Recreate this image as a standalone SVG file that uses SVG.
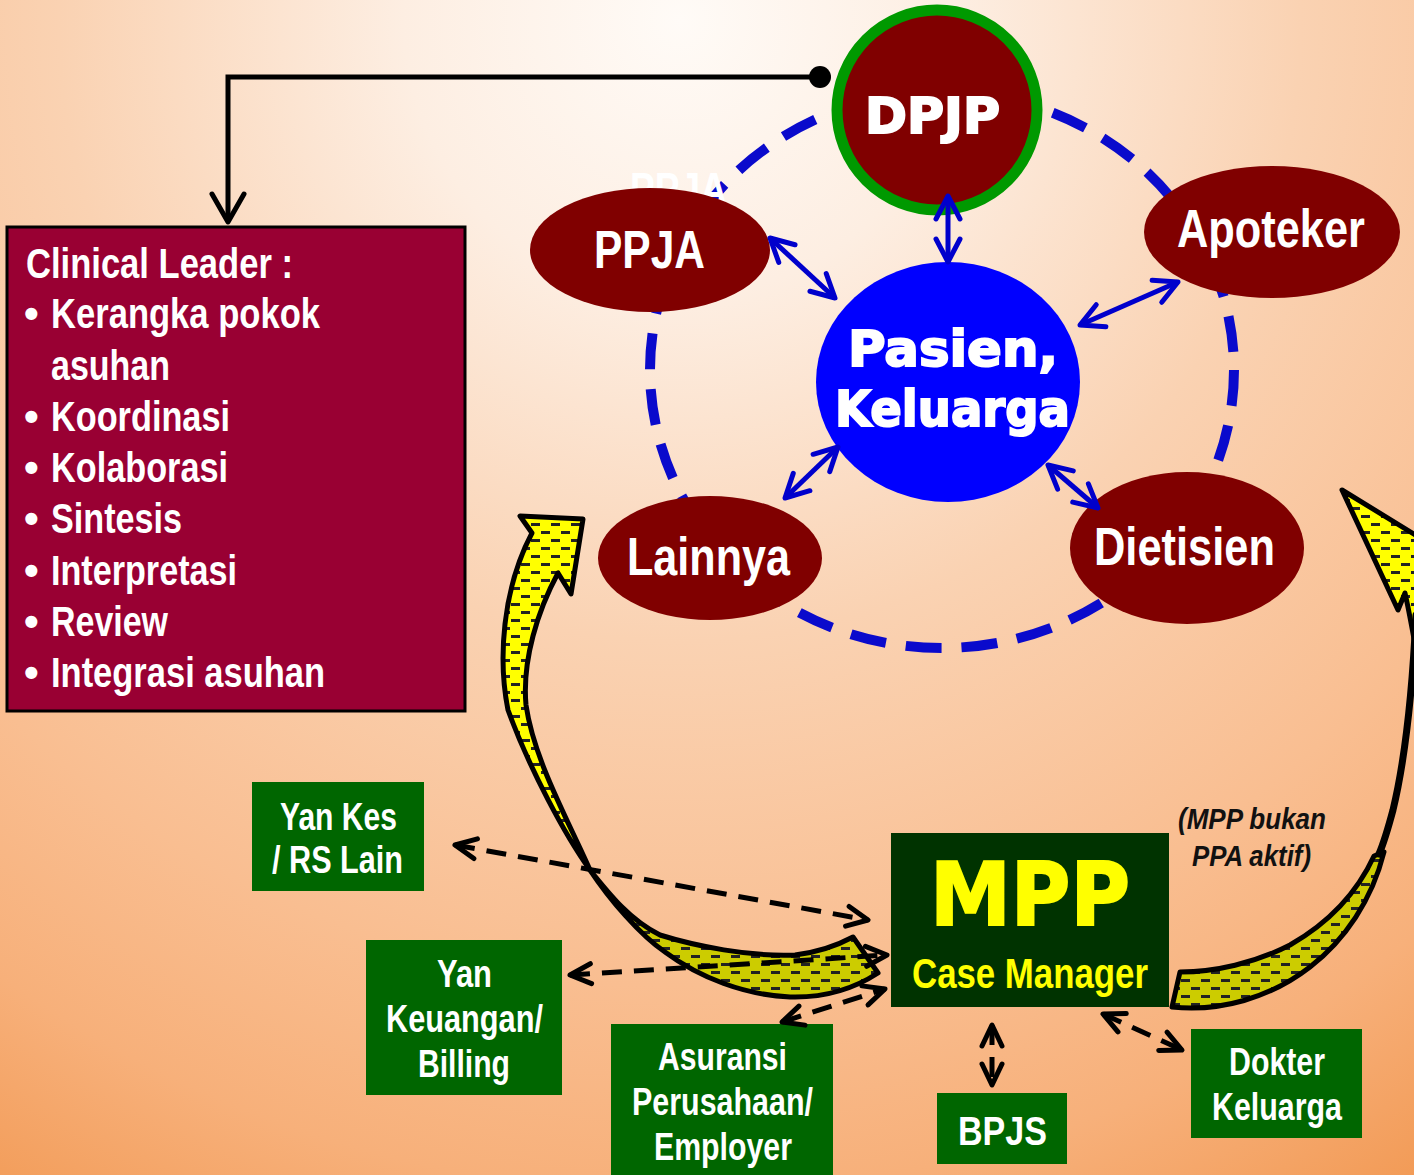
<svg xmlns="http://www.w3.org/2000/svg" xmlns:xlink="http://www.w3.org/1999/xlink" width="1414" height="1175" viewBox="0 0 1414 1175">
<style>
.nar{font-family:"Liberation Sans Narrow","Liberation Sans",Arial,sans-serif;font-weight:bold;}
.blk{font-family:"DejaVu Sans","Liberation Sans",sans-serif;font-weight:bold;}
.w{fill:#fff;}
.node{fill:#800000;}
.gbox{fill:#006600;}
.barrow{stroke:#0000cc;stroke-width:5;fill:none;marker-start:url(#ba);marker-end:url(#ba);}
.darrow{stroke:#000;stroke-width:5;fill:none;stroke-dasharray:20 12;marker-start:url(#ka);marker-end:url(#ka);}
.ystroke{stroke:#000;stroke-width:5;stroke-linejoin:round;}
</style>
<defs>
<radialGradient id="bg" cx="680" cy="20" r="1380" gradientUnits="userSpaceOnUse">
<stop offset="0" stop-color="#fffbf7"/>
<stop offset="0.2" stop-color="#fdeee2"/>
<stop offset="0.45" stop-color="#fad2b2"/>
<stop offset="0.7" stop-color="#f9be91"/>
<stop offset="0.85" stop-color="#f7b07a"/>
<stop offset="1" stop-color="#f29a55"/>
</radialGradient>
<pattern id="dash" width="20" height="16" patternUnits="userSpaceOnUse">
<rect x="1" y="3" width="9" height="3" fill="#222"/>
<rect x="11" y="11" width="9" height="3" fill="#222"/>
</pattern>
<marker id="ba" viewBox="0 0 30 30" refX="27" refY="15" markerWidth="30" markerHeight="30" markerUnits="userSpaceOnUse" orient="auto-start-reverse">
<path d="M4,3 L27,15 L4,27" fill="none" stroke="#0000cc" stroke-width="5" stroke-linecap="round" stroke-linejoin="round"/>
</marker>
<marker id="ka" viewBox="0 0 28 26" refX="25" refY="13" markerWidth="28" markerHeight="26" markerUnits="userSpaceOnUse" orient="auto-start-reverse">
<path d="M4,3 L25,13 L4,23" fill="none" stroke="#000" stroke-width="5" stroke-linecap="round" stroke-linejoin="round"/>
</marker>
<marker id="kb" viewBox="0 0 36 40" refX="32" refY="20" markerWidth="36" markerHeight="40" markerUnits="userSpaceOnUse" orient="auto">
<path d="M4,4 L32,20 L4,36" fill="none" stroke="#000" stroke-width="5" stroke-linecap="round" stroke-linejoin="round"/>
</marker>
<path id="lup" d="M532,533 L520,516 L583,519 L571,594 L558,573 C538,610 522,660 526,705 C534,760 568,820 590,870 C565,835 530,770 508,710 C498,660 502,590 532,533 Z"/>
<path id="llow" d="M590,870 C610,895 630,920 660,935 C695,946 750,957 795,955 C820,952 838,945 853,937 L878,973 C855,988 825,998 790,997 C745,995 700,978 665,952 C640,935 610,900 590,870 Z"/>
<path id="rup" d="M1405,593 L1398,610 L1342,490 L1440,550 L1440,660 L1418,660 C1414,640 1410,615 1405,593 Z"/>
<path id="rlow" d="M1374,856 C1356,895 1325,925 1290,945 C1255,963 1215,972 1180,972 L1172,1007 C1220,1012 1270,998 1310,967 C1345,940 1372,900 1384,852 Z"/>
</defs>

<rect width="1414" height="1175" fill="url(#bg)"/>

<ellipse id="ring" cx="942" cy="370" rx="292" ry="278" fill="none" stroke="#0a0acc" stroke-width="10" stroke-dasharray="36 20"/>

<g id="ghost"><text class="nar w" x="630" y="205" font-size="46" textLength="97" lengthAdjust="spacingAndGlyphs">PPJA</text></g>

<g id="clinical-leader">
<rect x="7" y="227" width="458" height="484" fill="#990033" stroke="#000" stroke-width="3"/>
<g class="nar w" font-size="42">
<text x="26" y="278" textLength="267" lengthAdjust="spacingAndGlyphs">Clinical Leader :</text>
<text x="24" y="328">•</text><text x="51" y="328" textLength="269" lengthAdjust="spacingAndGlyphs">Kerangka pokok</text>
<text x="51" y="380" textLength="119" lengthAdjust="spacingAndGlyphs">asuhan</text>
<text x="24" y="431">•</text><text x="51" y="431" textLength="179" lengthAdjust="spacingAndGlyphs">Koordinasi</text>
<text x="24" y="482">•</text><text x="51" y="482" textLength="177" lengthAdjust="spacingAndGlyphs">Kolaborasi</text>
<text x="24" y="533">•</text><text x="51" y="533" textLength="131" lengthAdjust="spacingAndGlyphs">Sintesis</text>
<text x="24" y="585">•</text><text x="51" y="585" textLength="186" lengthAdjust="spacingAndGlyphs">Interpretasi</text>
<text x="24" y="636">•</text><text x="51" y="636" textLength="117" lengthAdjust="spacingAndGlyphs">Review</text>
<text x="24" y="687">•</text><text x="51" y="687" textLength="274" lengthAdjust="spacingAndGlyphs">Integrasi asuhan</text>
</g>
</g>

<g id="ppja"><ellipse class="node" cx="650" cy="250" rx="120" ry="62"/>
<text class="nar w" x="594" y="268" font-size="53" textLength="111" lengthAdjust="spacingAndGlyphs">PPJA</text></g>
<g id="apoteker"><ellipse class="node" cx="1272" cy="232" rx="128" ry="66"/>
<text class="nar w" x="1177" y="247" font-size="53" textLength="188" lengthAdjust="spacingAndGlyphs">Apoteker</text></g>
<g id="lainnya"><ellipse class="node" cx="710" cy="558" rx="112" ry="62"/>
<text class="nar w" x="627" y="575" font-size="53" textLength="163" lengthAdjust="spacingAndGlyphs">Lainnya</text></g>
<g id="dietisien"><ellipse class="node" cx="1187" cy="548" rx="117" ry="76"/>
<text class="nar w" x="1094" y="565" font-size="53" textLength="181" lengthAdjust="spacingAndGlyphs">Dietisien</text></g>

<g id="dpjp"><circle cx="937" cy="110" r="100" fill="#800000" stroke="#009900" stroke-width="11"/>
<text class="blk w" x="865" y="133" font-size="49" stroke="#fff" stroke-width="2" textLength="135" lengthAdjust="spacingAndGlyphs">DPJP</text></g>

<g id="pasien"><ellipse cx="948" cy="382" rx="132" ry="120" fill="#0000ff"/>
<text class="blk w" x="848" y="366" font-size="50" stroke="#fff" stroke-width="2" textLength="210" lengthAdjust="spacingAndGlyphs">Pasien,</text>
<text class="blk w" x="835" y="426" font-size="50" stroke="#fff" stroke-width="2" textLength="235" lengthAdjust="spacingAndGlyphs">Keluarga</text></g>

<g id="yellow-arrows">
<use xlink:href="#lup" fill="#ffff00"/><use xlink:href="#lup" fill="url(#dash)" class="ystroke"/>
<use xlink:href="#llow" fill="#cccc00"/><use xlink:href="#llow" fill="url(#dash)" class="ystroke"/>
<use xlink:href="#rup" fill="#ffff00"/><use xlink:href="#rup" fill="url(#dash)" class="ystroke"/>
<use xlink:href="#rlow" fill="#cccc00"/><use xlink:href="#rlow" fill="url(#dash)" class="ystroke"/>
<path d="M1416,615 C1412,700 1405,760 1393,810 C1389,825 1385,840 1379,854" fill="none" stroke="#000" stroke-width="7" stroke-linecap="round"/>
</g>

<g id="mpp"><rect x="891" y="833" width="278" height="174" fill="#003300"/>
<text class="blk" x="930" y="925" font-size="88" fill="#ffff00" stroke="#ffff00" stroke-width="2" textLength="200" lengthAdjust="spacingAndGlyphs">MPP</text>
<text class="nar" x="912" y="988" font-size="42" fill="#ffff00" textLength="236" lengthAdjust="spacingAndGlyphs">Case Manager</text></g>

<g id="note">
<text class="nar" font-style="italic" font-size="30" fill="#111" x="1178" y="829" textLength="148" lengthAdjust="spacingAndGlyphs">(MPP bukan</text>
<text class="nar" font-style="italic" font-size="30" fill="#111" x="1192" y="866" textLength="119" lengthAdjust="spacingAndGlyphs">PPA aktif)</text></g>

<g id="yankes"><rect class="gbox" x="252" y="782" width="172" height="109"/>
<g class="nar w" font-size="38"><text x="280" y="830" textLength="117" lengthAdjust="spacingAndGlyphs">Yan Kes</text>
<text x="272" y="873" textLength="131" lengthAdjust="spacingAndGlyphs">/ RS Lain</text></g></g>
<g id="yankeuangan"><rect class="gbox" x="366" y="940" width="196" height="155"/>
<g class="nar w" font-size="38"><text x="437" y="987" textLength="55" lengthAdjust="spacingAndGlyphs">Yan</text>
<text x="386" y="1032" textLength="157" lengthAdjust="spacingAndGlyphs">Keuangan/</text>
<text x="418" y="1077" textLength="92" lengthAdjust="spacingAndGlyphs">Billing</text></g></g>
<g id="asuransi"><rect class="gbox" x="611" y="1024" width="222" height="151"/>
<g class="nar w" font-size="38"><text x="658" y="1070" textLength="129" lengthAdjust="spacingAndGlyphs">Asuransi</text>
<text x="632" y="1115" textLength="181" lengthAdjust="spacingAndGlyphs">Perusahaan/</text>
<text x="654" y="1160" textLength="138" lengthAdjust="spacingAndGlyphs">Employer</text></g></g>
<g id="bpjs"><rect class="gbox" x="937" y="1093" width="130" height="71"/>
<text class="nar w" font-size="40" x="958" y="1145" textLength="89" lengthAdjust="spacingAndGlyphs">BPJS</text></g>
<g id="dokter"><rect class="gbox" x="1191" y="1029" width="171" height="109"/>
<g class="nar w" font-size="38"><text x="1229" y="1075" textLength="96" lengthAdjust="spacingAndGlyphs">Dokter</text>
<text x="1212" y="1120" textLength="130" lengthAdjust="spacingAndGlyphs">Keluarga</text></g></g>

<g id="connectors">
<path d="M820,77 H228 V222" fill="none" stroke="#000" stroke-width="5" marker-end="url(#kb)"/>
<circle cx="820" cy="77" r="11" fill="#000"/>
<line class="barrow" x1="948" y1="196" x2="948" y2="262"/>
<line class="barrow" x1="770" y1="238" x2="835" y2="298"/>
<line class="barrow" x1="1178" y1="282" x2="1080" y2="325"/>
<line class="barrow" x1="785" y1="498" x2="838" y2="447"/>
<line class="barrow" x1="1048" y1="465" x2="1098" y2="508"/>
<line class="darrow" x1="455" y1="845" x2="868" y2="920"/>
<line class="darrow" x1="570" y1="975" x2="887" y2="955"/>
<line class="darrow" x1="782" y1="1022" x2="885" y2="989"/>
<line class="darrow" x1="992" y1="1025" x2="992" y2="1085"/>
<line class="darrow" x1="1103" y1="1014" x2="1182" y2="1050"/>
</g>
</svg>
